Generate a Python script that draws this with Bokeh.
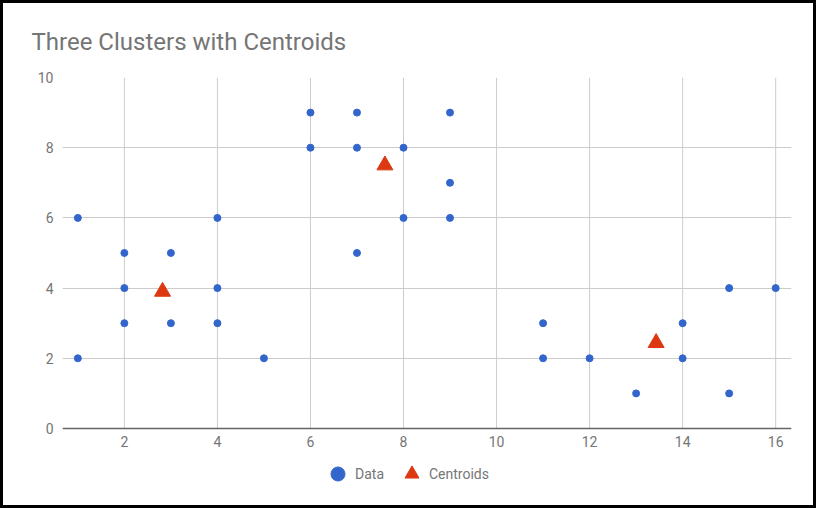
from bokeh.plotting import figure
from bokeh.models import FixedTicker, Legend, LegendItem, Range1d
from bokeh.embed import file_html
from bokeh.resources import INLINE

title_text = "Three Clusters with Centroids"

data_x = [1, 1, 2, 2, 2, 3, 3, 4, 4, 4, 5, 6, 6, 7, 7, 7, 8, 8, 9, 9, 9,
          11, 11, 12, 13, 14, 14, 15, 15, 16]
data_y = [6, 2, 5, 4, 3, 5, 3, 6, 4, 3, 2, 9, 8, 9, 8, 5, 8, 6, 9, 7, 6,
          3, 2, 2, 1, 3, 2, 4, 1, 4]

centroid_x = [2.82, 7.6, 13.43]
centroid_y = [3.9, 7.5, 2.44]

x_ticks = [2, 4, 6, 8, 10, 12, 14, 16]
y_ticks = [0, 2, 4, 6, 8, 10]

FONT = "Roboto"
GREY = "#757575"
GRID = "#cccccc"

# the frame reaches below y=0 so that the legend can sit inside it
Y_LOW = -1.966

p = figure(width=816, height=508, output_backend="svg", toolbar_location=None,
           x_range=Range1d(0.67, 16.34), y_range=Range1d(Y_LOW, 10),
           min_border_left=59, min_border_right=28,
           min_border_top=74, min_border_bottom=14)
p.styles = {"border": "3px solid black"}

p.title.text = title_text
p.title.text_font = FONT
p.title.text_font_size = "24px"
p.title.text_font_style = "normal"
p.title.text_color = GREY
p.title.align = "left"
p.title.offset = -31
p.title.standoff = 43

for ax in (p.xaxis[0], p.yaxis[0]):
    ax.major_tick_line_color = None
    ax.minor_tick_line_color = None
    ax.major_tick_out = 0
    ax.major_tick_in = 0
    ax.major_label_text_font = FONT
    ax.major_label_text_font_size = "14px"
    ax.major_label_text_color = GREY

p.xaxis.ticker = FixedTicker(ticks=x_ticks)
p.yaxis.ticker = FixedTicker(ticks=y_ticks)
p.xaxis.fixed_location = 0
p.yaxis.axis_line_color = None
p.xaxis.axis_line_color = "#666666"
p.xaxis.axis_line_width = 1.5
p.xaxis.major_label_standoff = 8
p.yaxis.major_label_standoff = 9

p.xgrid.visible = False
p.ygrid.ticker = FixedTicker(ticks=y_ticks)
p.ygrid.grid_line_color = GRID
p.outline_line_color = None

# vertical grid lines, limited to the value range of the y axis
n = len(x_ticks)
p.segment(x0=x_ticks, x1=x_ticks, y0=[y_ticks[0]] * n, y1=[y_ticks[-1]] * n,
          line_color=GRID, line_width=1, level="underlay")

r_data = p.scatter(data_x, data_y, marker="circle", size=7,
                   fill_color="#3366cc", line_color="#3366cc")
r_cent = p.scatter(centroid_x, centroid_y, marker="triangle", size=16,
                   fill_color="#dc3912", line_color="#dc3912")

legend = Legend(
    items=[LegendItem(label="Data", renderers=[r_data]),
           LegendItem(label="Centroids", renderers=[r_cent])],
    orientation="horizontal", location=(258, 6),
    glyph_width=35, glyph_height=35, label_standoff=0,
    spacing=10, padding=0, margin=0,
    border_line_color=None, background_fill_alpha=0,
    label_text_font=FONT, label_text_font_size="14px", label_text_color=GREY,
)
p.add_layout(legend, "center")

open("out.html", "w").write(file_html(p, INLINE))
